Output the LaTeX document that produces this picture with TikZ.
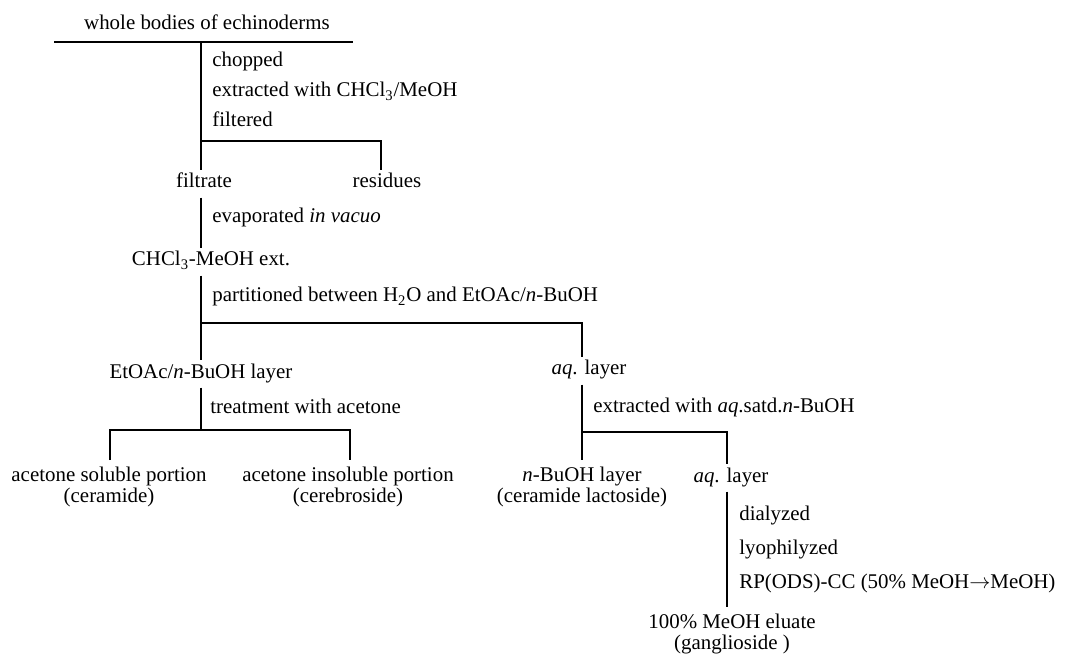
\documentclass[tikz,border=0pt]{standalone}
\usepackage{fontspec}
\setmainfont{Liberation Serif}
\usetikzlibrary{positioning}
\newcommand{\chartfont}{\fontsize{11.9}{12.3}\selectfont}
\tikzset{
  sample/.style={font=\chartfont, inner xsep=0pt, inner ysep=2.8pt,
              text height=0.7em, text depth=0.25em, anchor=base},
  op/.style={font=\chartfont, inner sep=0pt, anchor=base west},
  frac/.style={font=\chartfont, align=center, inner xsep=0pt, inner ysep=3.6pt,
              anchor=north},
  branch/.style={draw=black, line width=0.9pt},
}
\begin{document}
\begin{tikzpicture}[x=0.02cm, y=-0.02cm]
        \useasboundingbox (0,0) rectangle (1071,658);
        % starting material
        \node[sample] (whole) at (207,30){whole bodies of echinoderms};
        \coordinate (tl) at (54,42);
        \coordinate (tr) at (353,42);
        \draw[branch] (tl) -- (tr);
        % extraction
        \coordinate (s0) at (201,42);
        \coordinate (s1) at (201,141);
        \coordinate (r1) at (381,141);
        \node[op] at (212,67){chopped};
        \node[op] at (212,97){extracted with CHCl\textsubscript{3}/MeOH};
        \node[op] at (212,127){filtered};
        \node[sample] (filt) at (204,188){filtrate};
        \node[sample] (res) at (387,188){residues};
        \draw[branch] (s0) -- (s0 |- filt.north);
        \draw[branch] (s1) -- (r1) -- (r1 |- res.north);
        % concentration
        \node[op] at (212,223){evaporated \textit{in vacuo}};
        \node[sample] (ext) at (211,266){CHCl\textsubscript{3}-MeOH ext.};
        \draw[branch] (filt.south -| s0) -- (ext.north -| s0);
        % partition
        \coordinate (s2) at (201,323);
        \coordinate (r2) at (582,323);
        \node[op] at (212,302){partitioned between H\textsubscript{2}O and EtOAc/\textit{n}-BuOH};
        \node[sample] (org) at (201,378){EtOAc/\textit{n}-BuOH layer};
        \node[sample] (aq) at (589,375){\textit{aq}. layer};
        \draw[branch] (ext.south -| s2) -- (org.north -| s2);
        \draw[branch] (s2) -- (r2) -- (r2 |- aq.north);
        % acetone treatment
        \coordinate (s3) at (201,430);
        \coordinate (l3) at (110,430);
        \coordinate (r3) at (350,430);
        \node[op] at (210,413){treatment with acetone};
        \node[frac] (sol) at (109,460){acetone soluble portion\\(ceramide)};
        \node[frac] (insol) at (348,460){acetone insoluble portion\\(cerebroside)};
        \draw[branch] (org.south -| s3) -- (s3);
        \draw[branch] (l3 |- sol.north) -- (l3) -- (r3) -- (r3 |- insol.north);
        % butanol extraction
        \coordinate (s4) at (582,432);
        \coordinate (r4) at (727,432);
        \node[op] at (593,412){extracted with \textit{aq}.satd.\textit{n}-BuOH};
        \node[frac] (buoh) at (582,460){\textit{n}-BuOH layer\\(ceramide lactoside)};
        \node[sample] (aq2) at (731,482){\textit{aq}. layer};
        \draw[branch] (aq.south -| s4) -- (s4 |- buoh.north);
        \draw[branch] (s4) -- (r4) -- (r4 |- aq2.north);
        % column
        \node[op] at (739,520){dialyzed};
        \node[op] at (739,554){lyophilyzed};
        \node[op] at (739,588){RP(ODS)-CC (50\% MeOH$\rightarrow$MeOH)};
        \node[frac] (gang) at (732,607){100\% MeOH eluate\\(ganglioside )};
        \draw[branch] (aq2.south -| r4) -- (r4 |- gang.north);
      \end{tikzpicture}
\end{document}
